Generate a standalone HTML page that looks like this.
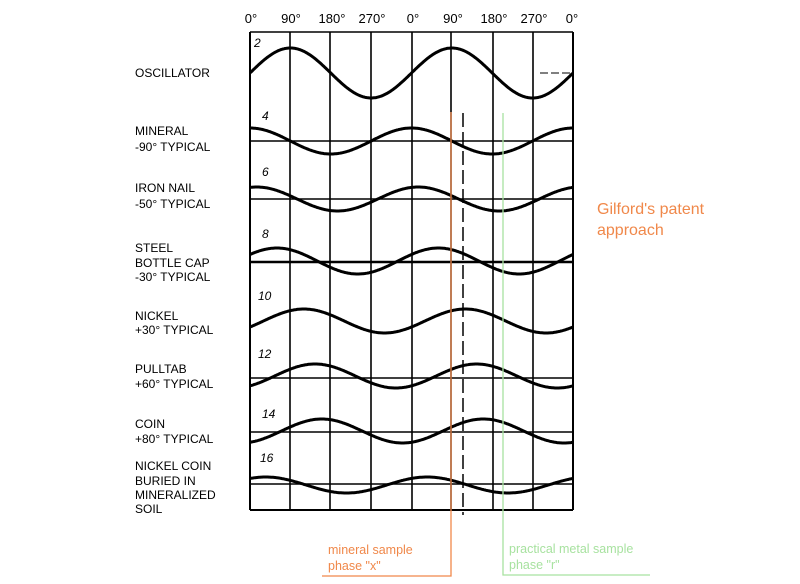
<!DOCTYPE html>
<html><head><meta charset="utf-8"><style>
html,body{margin:0;padding:0;background:#fff;}
body{width:800px;height:584px;overflow:hidden;position:relative;font-family:"Liberation Sans",sans-serif;}
svg{position:absolute;left:0;top:0;}
</style></head><body>
<svg id="s" width="800" height="584" xmlns="http://www.w3.org/2000/svg">
<g font-family="Liberation Sans, sans-serif" font-size="13" fill="#000" text-anchor="middle">
<text x="251" y="23">0°</text><text x="291" y="23">90°</text><text x="332" y="23">180°</text><text x="372" y="23">270°</text>
<text x="413" y="23">0°</text><text x="453" y="23">90°</text><text x="494" y="23">180°</text><text x="534" y="23">270°</text><text x="572" y="23">0°</text>
</g>
<g font-family="Liberation Sans, sans-serif" font-size="12" fill="#000">
<text x="135" y="77">OSCILLATOR</text>
<text x="135" y="135">MINERAL</text><text x="135" y="151">-90° TYPICAL</text>
<text x="135" y="192">IRON NAIL</text><text x="135" y="208">-50° TYPICAL</text>
<text x="135" y="252">STEEL</text><text x="135" y="267">BOTTLE CAP</text><text x="135" y="281">-30° TYPICAL</text>
<text x="135" y="320">NICKEL</text><text x="135" y="334">+30° TYPICAL</text>
<text x="135" y="373">PULLTAB</text><text x="135" y="388">+60° TYPICAL</text>
<text x="135" y="428">COIN</text><text x="135" y="443">+80° TYPICAL</text>
<text x="135" y="470">NICKEL COIN</text><text x="135" y="485">BURIED IN</text><text x="135" y="499">MINERALIZED</text><text x="135" y="513">SOIL</text>
</g>
<g font-family="Liberation Sans, sans-serif" font-size="12" font-style="italic" fill="#000">
<text x="254" y="47">2</text><text x="262" y="120">4</text><text x="262" y="176">6</text><text x="262" y="238">8</text>
<text x="258" y="300">10</text><text x="258" y="358">12</text><text x="262" y="418">14</text><text x="260" y="462">16</text>
</g>
<g id="grid" stroke="#000" fill="none"></g>
<g id="waves" stroke="#000" fill="none" stroke-width="3"></g>
<line x1="463" y1="113" x2="463" y2="515" stroke="#000" stroke-width="1.5" stroke-dasharray="14,5"/>
<g stroke="#f0884a" stroke-width="1.3" fill="none"><polyline points="451,112 451,576 322,576"/></g>
<g stroke="#a8e2a0" stroke-width="1.3" fill="none"><polyline points="503,113 503,575 650,575"/></g>
<g font-family="Liberation Sans, sans-serif" font-size="16" fill="#f0884a">
<text x="597" y="214">Gilford's patent</text><text x="597" y="235">approach</text>
</g>
<g font-family="Liberation Sans, sans-serif" font-size="12.5" fill="#f0884a">
<text x="328" y="554">mineral sample</text><text x="328" y="570">phase "x"</text>
</g>
<g font-family="Liberation Sans, sans-serif" font-size="12.5" fill="#a8e2a0">
<text x="509" y="553">practical metal sample</text><text x="509" y="569">phase "r"</text>
</g>
</svg>
<script>
var NS="http://www.w3.org/2000/svg";
function el(p,t,a){var e=document.createElementNS(NS,t);for(var k in a)e.setAttribute(k,a[k]);p.appendChild(e);return e;}
var g=document.getElementById('grid');
[250,290,330,371,412,451,493,533,573].forEach(function(x,i){el(g,'line',{x1:x,y1:32,x2:x,y2:510,'stroke-width':(i==0||i==8)?2:1.6});});
el(g,'line',{x1:250,y1:32,x2:573,y2:32,'stroke-width':1.6});
el(g,'line',{x1:250,y1:510,x2:573,y2:510,'stroke-width':2});
[[141,1.5],[199,1.5],[262,2.5],[378,1.5],[432,1.5],[484,1.5]].forEach(function(h){el(g,'line',{x1:250,y1:h[0],x2:573,y2:h[0],'stroke-width':h[1]});});
el(g,'line',{x1:540,y1:73,x2:573,y2:73,'stroke-width':1,'stroke-dasharray':'8,3'});
var w=document.getElementById('waves');
var rows=[[73,25,90],[141,13,0],[199,12,15],[261,13,60],[321,12,120],[376,12,145],[431,12,160],[485,8,35]];
rows.forEach(function(r){var pts=[];for(var x=250;x<=573;x+=1){var th=(x-250)/161.5*360;var y=r[0]-r[1]*Math.cos((th-r[2])*Math.PI/180);pts.push(x+','+y.toFixed(1));}
el(w,'polyline',{points:pts.join(' ')});});
</script>
</body></html>
